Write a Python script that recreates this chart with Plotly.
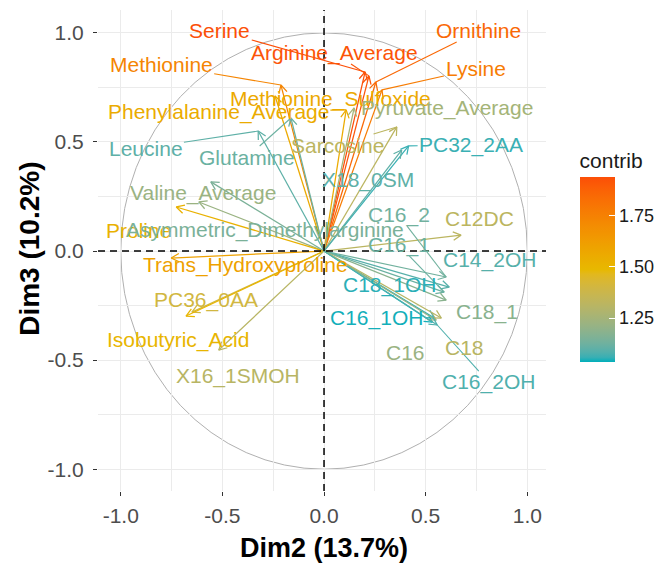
import math
import plotly.graph_objects as go

# ---------------- data ----------------
variables = [
    "Serine", "Arginine_Average", "Ornithine", "Lysine", "Methionine",
    "Methionine_Sulfoxide", "Phenylalanine_Average", "Pyruvate_Average",
    "Leucine", "Glutamine", "Sarcosine", "PC32_2AA", "X18_0SM",
    "Valine_Average", "Proline", "Asymmetric_Dimethylarginine",
    "Trans_Hydroxyproline", "PC36_0AA", "Isobutyric_Acid", "X16_1SMOH",
    "C12DC", "C16_2", "C16_1", "C14_2OH", "C18_1OH", "C16_1OH",
    "C18_1", "C16", "C18", "C16_2OH",
]
dim2 = [0.202, 0.221, 0.255, 0.285, -0.212, -0.241, 0.109, 0.148,
        -0.324, -0.163, 0.358, 0.416, 0.382, -0.616, -0.727, -0.557,
        -0.752, -0.650, -0.679, -0.518, 0.674, 0.601, 0.591, 0.616,
        0.543, 0.533, 0.601, 0.552, 0.577, 0.557]
dim3 = [0.821, 0.803, 0.775, 0.739, 0.761, 0.711, 0.647, 0.656,
        0.550, 0.610, 0.569, 0.482, 0.463, 0.225, 0.202, 0.317,
        -0.032, -0.280, -0.298, -0.454, 0.073, -0.119, -0.188, -0.165,
        -0.307, -0.326, -0.225, -0.317, -0.307, -0.339]
contrib = [1.935, 1.92, 1.85, 1.77, 1.73, 1.56, 1.55, 1.25,
           1.10, 1.12, 1.32, 1.06, 1.10, 1.22, 1.52, 1.15,
           1.60, 1.40, 1.50, 1.31, 1.32, 1.13, 1.12, 1.09,
           1.05, 1.04, 1.18, 1.22, 1.31, 1.08]
contrib_range = [1.036, 1.937]
tick_vals = [-1.0, -0.5, 0.0, 0.5, 1.0]
tick_text = ["-1.0", "-0.5", "0.0", "0.5", "1.0"]
cbar_vals = [1.25, 1.50, 1.75]
cbar_text = ["1.25", "1.50", "1.75"]
x_title = "Dim2 (13.7%)"
y_title = "Dim3 (10.2%)"
legend_title = "contrib"

# ---------------- layout (repelled label placement) ----------------
label_pos = {
    "Serine": (-0.513, 1.009), "Arginine_Average": (0.051, 0.908),
    "Ornithine": (0.762, 1.009), "Lysine": (0.747, 0.835),
    "Methionine": (-0.800, 0.853), "Methionine_Sulfoxide": (0.032, 0.697),
    "Phenylalanine_Average": (-0.518, 0.638), "Pyruvate_Average": (0.606, 0.656),
    "Leucine": (-0.878, 0.472), "Glutamine": (-0.377, 0.431),
    "Sarcosine": (0.066, 0.486), "PC32_2AA": (0.723, 0.486),
    "X18_0SM": (0.217, 0.326), "Valine_Average": (-0.596, 0.266),
    "Proline": (-0.912, 0.096), "Asymmetric_Dimethylarginine": (-0.290, 0.096),
    "Trans_Hydroxyproline": (-0.387, -0.064), "PC36_0AA": (-0.582, -0.225),
    "Isobutyric_Acid": (-0.718, -0.408), "X16_1SMOH": (-0.421, -0.573),
    "C12DC": (0.766, 0.151), "C16_2": (0.367, 0.165), "C16_1": (0.367, 0.028),
    "C14_2OH": (0.815, -0.041), "C18_1OH": (0.324, -0.156),
    "C16_1OH": (0.260, -0.307), "C18_1": (0.800, -0.280),
    "C16": (0.401, -0.463), "C18": (0.689, -0.440), "C16_2OH": (0.810, -0.601),
}
with_segment = {"Serine", "Ornithine", "Lysine", "Methionine", "Phenylalanine_Average",
                "Leucine", "Glutamine", "Sarcosine", "PC32_2AA", "C16_2", "C16_1",
                "C16_2OH", "Arginine_Average"}

W, H = 670, 566
ML, MR, MT, MB = 98, 119, 10, 75
xr = [-1.112, 1.092]
yr = [-1.100, 1.105]
PW, PH = W - ML - MR, H - MT - MB
sx = PW / (xr[1] - xr[0])
sy = PH / (yr[1] - yr[0])
FONT = "Liberation Sans, Arial, sans-serif"
LABEL_SIZE = 21

# ---------------- colour scale (Lab interpolation like ggplot) ----------------
stops_hex = ["#00AFBB", "#E7B800", "#FC4E07"]


def hex_rgb(h):
    return [int(h[i:i + 2], 16) for i in (1, 3, 5)]


def rgb_to_lab(rgb):
    def lin(c):
        c /= 255.0
        return c / 12.92 if c <= 0.04045 else ((c + 0.055) / 1.055) ** 2.4
    r, g, b = (lin(c) for c in rgb)
    X = 0.4124 * r + 0.3576 * g + 0.1805 * b
    Y = 0.2126 * r + 0.7152 * g + 0.0722 * b
    Z = 0.0193 * r + 0.1192 * g + 0.9505 * b
    Xn, Yn, Zn = 0.95047, 1.0, 1.08883

    def f(t):
        return t ** (1 / 3) if t > 0.008856 else 7.787 * t + 16 / 116
    fx, fy, fz = f(X / Xn), f(Y / Yn), f(Z / Zn)
    return [116 * fy - 16, 500 * (fx - fy), 200 * (fy - fz)]


def lab_to_rgb(lab):
    L, a, bb = lab
    fy = (L + 16) / 116
    fx = fy + a / 500
    fz = fy - bb / 200

    def finv(t):
        return t ** 3 if t ** 3 > 0.008856 else (t - 16 / 116) / 7.787
    X, Y, Z = 0.95047 * finv(fx), finv(fy), 1.08883 * finv(fz)
    r = 3.2406 * X - 1.5372 * Y - 0.4986 * Z
    g = -0.9689 * X + 1.8758 * Y + 0.0415 * Z
    b = 0.0557 * X - 0.2040 * Y + 1.0570 * Z

    def gam(c):
        c = max(0.0, min(1.0, c))
        return 12.92 * c if c <= 0.0031308 else 1.055 * c ** (1 / 2.4) - 0.055
    return [round(255 * gam(c)) for c in (r, g, b)]


stops_lab = [rgb_to_lab(hex_rgb(h)) for h in stops_hex]


def color_at(t):
    t = max(0.0, min(1.0, t))
    seg = min(int(t * 2), 1)
    u = t * 2 - seg
    la, lb = stops_lab[seg], stops_lab[seg + 1]
    lab = [la[i] + (lb[i] - la[i]) * u for i in range(3)]
    r, g, b = lab_to_rgb(lab)
    return f"rgb({r},{g},{b})"


def color_of(v):
    return color_at((v - contrib_range[0]) / (contrib_range[1] - contrib_range[0]))


colorscale = [[i / 40, color_at(i / 40)] for i in range(41)]

# ---------------- figure ----------------
fig = go.Figure()

# arrows
HEAD = 9.0
ANG = math.radians(28)
for name, x, y, c in zip(variables, dim2, dim3, contrib):
    col = color_of(c)
    px_, py_ = x * sx, y * sy
    a = math.atan2(py_, px_)
    h1 = (px_ - HEAD * math.cos(a - ANG), py_ - HEAD * math.sin(a - ANG))
    h2 = (px_ - HEAD * math.cos(a + ANG), py_ - HEAD * math.sin(a + ANG))
    xs = [0, x, None, h1[0] / sx, x, h2[0] / sx]
    ys = [0, y, None, h1[1] / sy, y, h2[1] / sy]
    fig.add_trace(go.Scatter(x=xs, y=ys, mode="lines",
                             line=dict(color=col, width=1.25),
                             hoverinfo="skip", showlegend=False))

# label segments (ggrepel style)
cw = {"_": 0.556, "i": 0.222, "l": 0.222, "t": 0.278, "r": 0.333, "f": 0.278,
      "y": 0.5, "v": 0.5, "x": 0.5, "c": 0.5, "s": 0.5, "m": 0.833, "M": 0.833,
      "A": 0.667, "P": 0.667, "S": 0.667, "X": 0.667, "C": 0.722, "D": 0.722,
      "O": 0.778, "G": 0.778, "H": 0.722, "T": 0.611, "L": 0.556, "I": 0.278}


def text_w(s):
    return sum(cw.get(ch, 0.556) for ch in s) * LABEL_SIZE


for name, x, y, c in zip(variables, dim2, dim3, contrib):
    if name not in with_segment:
        continue
    lx, ly = label_pos[name]
    cx, cy = lx * sx, ly * sy
    tx, ty = x * sx, y * sy
    dx, dy = tx - cx, ty - cy
    hw, hh = text_w(name) / 2 + 2, 11
    ts = []
    if abs(dx) > 1e-9:
        ts.append(hw / abs(dx))
    if abs(dy) > 1e-9:
        ts.append(hh / abs(dy))
    t = min(ts)
    if t >= 1:
        continue
    sxp, syp = cx + dx * t, cy + dy * t
    fig.add_trace(go.Scatter(x=[sxp / sx, x], y=[syp / sy, y], mode="lines",
                             line=dict(color=color_of(c), width=1.1),
                             hoverinfo="skip", showlegend=False))

# colorbar carrier
fig.add_trace(go.Scatter(
    x=[None], y=[None], mode="markers", showlegend=False, hoverinfo="skip",
    marker=dict(color=[contrib_range[0]], cmin=contrib_range[0], cmax=contrib_range[1],
                colorscale=colorscale, showscale=True,
                colorbar=dict(
                    title=dict(text=legend_title, side="top",
                               font=dict(family=FONT, size=21, color="#1a1a1a")),
                    x=(585 - ML) / PW, xanchor="left",
                    y=(H - MB - 362) / PH, yanchor="bottom",
                    thickness=35, thicknessmode="pixels",
                    len=213, lenmode="pixels",
                    outlinewidth=0, ticks="inside", ticklen=6, tickcolor="white",
                    tickwidth=1.2, tickvals=cbar_vals, ticktext=cbar_text,
                    tickfont=dict(family=FONT, size=18, color="#1a1a1a"),
                    xpad=0, ypad=0,
                ))))

# labels
for name, c in zip(variables, contrib):
    lx, ly = label_pos[name]
    fig.add_annotation(x=lx, y=ly, text=name, showarrow=False,
                       xanchor="center", yanchor="middle",
                       font=dict(family=FONT, size=LABEL_SIZE, color=color_of(c)))

# axis titles
fig.add_annotation(x=(326.5 - ML) / PW, y=(H - MB - 548) / PH,
                   xref="paper", yref="paper",
                   text=f"<b>{x_title}</b>", showarrow=False,
                   font=dict(family=FONT, size=27, color="black"),
                   xanchor="center", yanchor="middle")
fig.add_annotation(x=(28 - ML) / PW, y=(H - MB - 249) / PH,
                   xref="paper", yref="paper", textangle=-90,
                   text=f"<b>{y_title}</b>", showarrow=False,
                   font=dict(family=FONT, size=28, color="black"),
                   xanchor="center", yanchor="middle")

# correlation circle and dashed zero lines
fig.add_shape(type="circle", xref="x", yref="y", x0=-1, x1=1, y0=-1, y1=1,
              line=dict(color="#B0B0B0", width=1), layer="below")
fig.add_shape(type="line", xref="x", yref="paper", x0=0, x1=0, y0=0, y1=1,
              line=dict(color="black", width=1.5, dash="7px,5px"), layer="above")
fig.add_shape(type="line", xref="paper", yref="y", x0=0, x1=1, y0=0, y1=0,
              line=dict(color="black", width=1.5, dash="7px,5px"), layer="above")

axis_common = dict(
    showgrid=True, gridcolor="#EBEBEB", gridwidth=1.3, zeroline=False,
    showline=False, ticks="outside", ticklen=4, tickwidth=1.2, tickcolor="#333333",
    tickvals=tick_vals, ticktext=tick_text,
    tickfont=dict(family=FONT, size=21, color="#4D4D4D"),
    minor=dict(tickvals=[-0.75, -0.25, 0.25, 0.75], showgrid=True,
               gridcolor="#EBEBEB", gridwidth=0.8, ticks=""),
)
fig.update_xaxes(range=xr, ticklabelstandoff=2, **axis_common)
fig.update_yaxes(range=yr, ticklabelstandoff=5, **axis_common)

fig.update_layout(
    width=W, height=H,
    margin=dict(l=ML, r=MR, t=MT, b=MB),
    plot_bgcolor="white", paper_bgcolor="white",
    font=dict(family=FONT),
    showlegend=False,
)

fig.write_html("out.html")
